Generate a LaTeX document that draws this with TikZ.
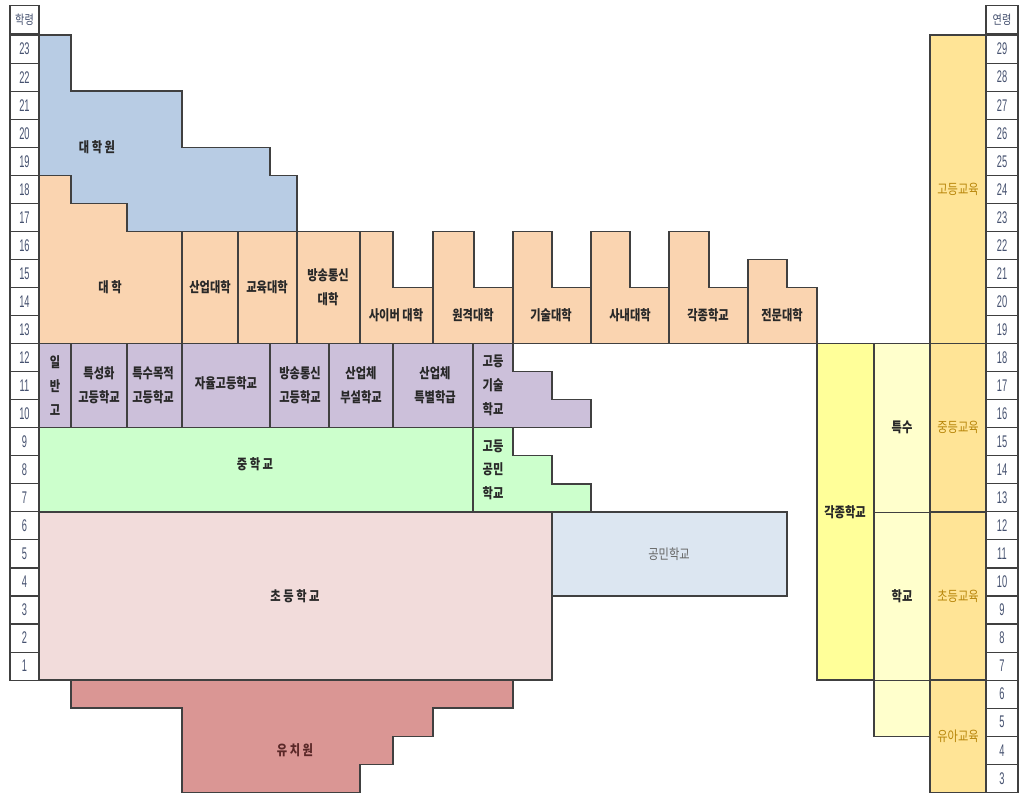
\documentclass[tikz,border=0pt]{standalone}
\usepackage{fontspec}
\setmainfont{Noto Sans CJK KR}
\newfontfamily\kfont[FakeStretch=0.8]{Noto Sans CJK KR}
\newfontfamily\numfont[FakeStretch=0.55]{Liberation Sans}
\usetikzlibrary{positioning}
\definecolor{edgegray}{RGB}{64, 64, 64}
\definecolor{gradblue}{RGB}{184, 204, 228}
\definecolor{univorange}{RGB}{250, 212, 176}
\definecolor{highpurple}{RGB}{204, 192, 218}
\definecolor{midgreen}{RGB}{204, 255, 204}
\definecolor{elempink}{RGB}{242, 220, 219}
\definecolor{civicblue}{RGB}{220, 230, 241}
\definecolor{kinderred}{RGB}{218, 150, 148}
\definecolor{misc yellow}{RGB}{255, 255, 153}
\definecolor{speclite}{RGB}{255, 255, 204}
\definecolor{edugold}{RGB}{255, 228, 150}
\definecolor{edutext}{RGB}{184, 134, 11}
\definecolor{numblue}{RGB}{70, 82, 112}
\definecolor{labeltext}{RGB}{40, 40, 40}
\tikzset{
  region/.style={draw=edgegray, line width=1pt},
  lbl/.style={font=\kfont\bfseries\fontsize{10}{17}\selectfont, align=center, text=labeltext, inner sep=0pt},
  edulbl/.style={lbl, font=\kfont\fontsize{10}{17}\selectfont, text=edutext},
  gradecell/.style={rectangle, draw=edgegray, line width=0.8pt, fill=white, inner sep=0pt,
                    minimum width=0.725cm, minimum height=0.701cm,
                    font=\numfont\fontsize{12}{12}\selectfont, text=numblue},
  agecell/.style={gradecell, minimum width=0.8cm},
  headcell/.style={gradecell, font=\kfont\fontsize{9}{9}\selectfont},
}

\begin{document}
\begin{tikzpicture}[x=0.025cm, y=0.701cm]
  \useasboundingbox (0,-4.03) rectangle (1019,24.25);

  % graduate school and universities
  \filldraw[region, fill=gradblue] (39,23) -| (71,21) -| (182,19) -| (270,18) -| (297,16)
    -- (127,16) |- (71,17) |- (39,18) -- cycle;
  \filldraw[region, fill=univorange] (39,18) -| (71,17) -| (127,16) -- (182,16) -- (182,12) -- (39,12) -- cycle;
  \filldraw[region, fill=univorange] (182,12) rectangle (238,16);
  \filldraw[region, fill=univorange] (238,12) rectangle (297,16);
  \filldraw[region, fill=univorange] (297,12) rectangle (360,16);
  \foreach \xa/\xb/\xc/\ht in {360/393/433/16, 433/474/513/16, 513/552/591/16,
                               591/630/669/16, 669/709/748/16, 748/787/817/15}
    \filldraw[region, fill=univorange] (\xa,12) -- (\xa,\ht) -| (\xb,14) -| (\xc,12) -- cycle;

  % high schools
  \foreach \xa/\xb in {39/71, 71/127, 127/182, 182/270, 270/329, 329/393, 393/473}
    \filldraw[region, fill=highpurple] (\xa,9) rectangle (\xb,12);
  \filldraw[region, fill=highpurple] (473,9) -- (473,12) -| (513,11) -| (552,10) -| (591,9) -- cycle;

  % middle school
  \filldraw[region, fill=midgreen] (39,6) rectangle (473,9);
  \filldraw[region, fill=midgreen] (473,6) -- (473,9) -| (513,8) -| (552,7) -| (591,6) -- cycle;

  % elementary and kindergarten
  \filldraw[region, fill=elempink] (39,0) rectangle (552,6);
  \filldraw[region, fill=civicblue] (552,3) rectangle (787,6);
  \filldraw[region, fill=kinderred] (71,0) -- (513,0) |- (433,-1) |- (393,-2) |- (360,-3)
    |- (182,-4) |- (71,-1) -- cycle;

  % right side
  \filldraw[region, fill=misc yellow] (817,0) rectangle (874,12);
  \filldraw[region, fill=speclite] (874,-2) rectangle (930,12);
  \draw[draw=edgegray, line width=0.5pt] (874,6) -- (930,6);
  \draw[draw=edgegray, line width=0.5pt] (874,0) -- (930,0);
  \filldraw[region, fill=edugold] (930,-4) rectangle (986,23);
  \draw[region] (930,12) -- (986,12);
  \draw[region] (930,6) -- (986,6);
  \draw[region] (930,0) -- (986,0);

  % grade and age scales
  \foreach \g in {1,...,23}
    \node[gradecell] (gr\g) at (24.5,\g-0.5) {\g};
  \node[headcell, above=0pt of gr23] (grhead) {학령};
  \foreach \a in {3,...,29}
    \node[agecell] (ag\a) at (1002,\a-6.5) {\a};
  \node[headcell, minimum width=0.8cm, above=0pt of ag29] (aghead) {연령};

  % labels
  \node[lbl] (lgrad) at (97,19) {대~학~원};
  \node[lbl] (luniv) at (110,14) {대~학};
  \node[lbl] (lind) at (210,14) {산업대학};
  \node[lbl] (ledu) at (267,14) {교육대학};
  \node[lbl] (lbcu) at (328,14) {방송통신\\대학};
  \node[lbl] (lcyb) at (396,13) {사이버 대학};
  \node[lbl] (ldist) at (473,13) {원격대학};
  \node[lbl] (ltech) at (551,13) {기술대학};
  \node[lbl] (lcorp) at (630,13) {사내대학};
  \node[lbl] (lmisc) at (708,13) {각종학교};
  \node[lbl] (ljr) at (782,13) {전문대학};

  \node[lbl] (lgen) at (55,10.5) {일\\반\\고};
  \node[lbl] (lspc) at (99,10.5) {특성화\\고등학교};
  \node[lbl] (lpur) at (153,10.5) {특수목적\\고등학교};
  \node[lbl] (lauto) at (226,10.6) {자율고등학교};
  \node[lbl] (lbch) at (300,10.5) {방송통신\\고등학교};
  \node[lbl] (lattc) at (361,10.5) {산업체\\부설학교};
  \node[lbl] (lspcl) at (435,10.5) {산업체\\특별학급};
  \node[lbl] (lhtech) at (493,10.5) {고등\\기술\\학교};

  \node[lbl] (lmid) at (255,7.7) {중~학~교};
  \node[lbl] (lhcivic) at (493,7.5) {고등\\공민\\학교};
  \node[lbl] (lelem) at (295,3) {초~등~학~교};
  \node[lbl, font=\kfont\fontsize{10}{17}\selectfont, text=gray!80!black] (lcivic) at (669,4.5) {공민학교};
  \node[lbl, text={rgb,255:red,90;green,40;blue,40}] (lkinder) at (295,-2.5) {유~치~원};

  \node[lbl] (lvar) at (845,6) {각종학교};
  \node[lbl] (lspec1) at (902,9) {특수};
  \node[lbl] (lspec2) at (902,3) {학교};
  \node[edulbl] (lhigher) at (958,17.5) {고등교육};
  \node[edulbl] (lsecond) at (958,9) {중등교육};
  \node[edulbl] (lprimary) at (958,3) {초등교육};
  \node[edulbl] (learly) at (958,-2) {유아교육};
\end{tikzpicture}
\end{document}
